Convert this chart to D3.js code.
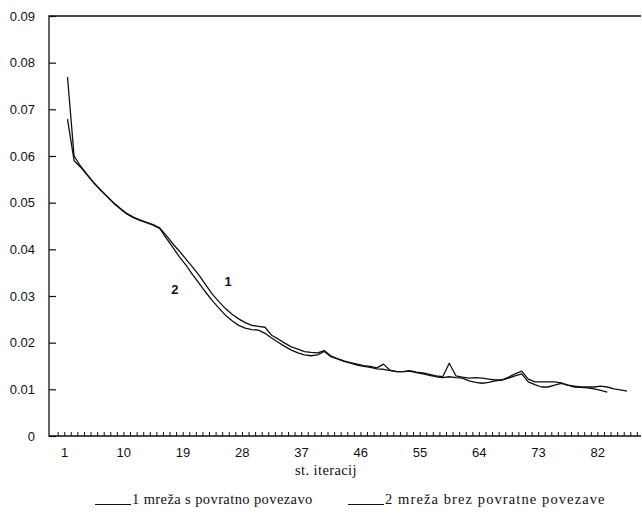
<!DOCTYPE html>
<html>
<head>
<meta charset="utf-8">
<script src="https://cdn.jsdelivr.net/npm/d3@7"></script>
<style>
  body { margin: 0; background: #fff; }
  svg { display: block; }
  .tick-lbl { font-family: "Liberation Sans", Arial, sans-serif; font-size: 13px; fill: #111; }
  .serif { font-family: "Liberation Serif", "DejaVu Serif", "Times New Roman", serif; font-size: 14.5px; letter-spacing: 0.4px; fill: #111; }
</style>
</head>
<body>
<div id="chart"></div>
<script>
// iterations 1..86 / 1..83
var iterations1 = d3.range(1, 87);
var iterations2 = d3.range(1, 84);

// 1 mreža s povratno povezavo
var series1 = [
  0.0769, 0.0600, 0.0578, 0.0560, 0.0543, 0.0528, 0.0514, 0.0500, 0.0488, 0.0477,
  0.0469, 0.0463, 0.0458, 0.0453, 0.0446, 0.0430, 0.0412, 0.0396, 0.0379, 0.0362,
  0.0344, 0.0324, 0.0304, 0.0288, 0.0273, 0.0261, 0.0251, 0.0243, 0.0237, 0.0235,
  0.0233, 0.0216, 0.0208, 0.0199, 0.0191, 0.0186, 0.0181, 0.0179, 0.0178, 0.0183,
  0.0172, 0.0166, 0.0161, 0.0157, 0.0154, 0.0151, 0.0149, 0.0146, 0.0154, 0.0141,
  0.0138, 0.0138, 0.0140, 0.0137, 0.0135, 0.0132, 0.0129, 0.0127, 0.0156, 0.0129,
  0.0126, 0.0124, 0.0125, 0.0124, 0.0122, 0.0120, 0.0120, 0.0126, 0.0133, 0.0139,
  0.0122, 0.0116, 0.0116, 0.0116, 0.0116, 0.0114, 0.0109, 0.0107, 0.0105, 0.0105,
  0.0105, 0.0107, 0.0105, 0.0101, 0.0099, 0.0096
];

// 2 mreža brez povratne povezave
var series2 = [
  0.0679, 0.0590, 0.0576, 0.0559, 0.0542, 0.0527, 0.0513, 0.0499, 0.0487, 0.0476,
  0.0468, 0.0462, 0.0457, 0.0452, 0.0445, 0.0424, 0.0404, 0.0384, 0.0366, 0.0346,
  0.0327, 0.0308, 0.0290, 0.0274, 0.0259, 0.0247, 0.0237, 0.0231, 0.0228, 0.0227,
  0.0220, 0.0210, 0.0201, 0.0192, 0.0184, 0.0178, 0.0174, 0.0172, 0.0174, 0.0181,
  0.0170, 0.0165, 0.0160, 0.0156, 0.0152, 0.0149, 0.0147, 0.0144, 0.0143, 0.0140,
  0.0138, 0.0138, 0.0139, 0.0136, 0.0133, 0.0130, 0.0127, 0.0125, 0.0127, 0.0125,
  0.0124, 0.0118, 0.0115, 0.0113, 0.0115, 0.0118, 0.0120, 0.0124, 0.0129, 0.0133,
  0.0116, 0.0110, 0.0105, 0.0105, 0.0109, 0.0113, 0.0109, 0.0105, 0.0104, 0.0103,
  0.0101, 0.0098, 0.0094
];

var xLabels = [1, 10, 19, 28, 37, 46, 55, 64, 73, 82];
var yTicks = [0, 0.01, 0.02, 0.03, 0.04, 0.05, 0.06, 0.07, 0.08, 0.09];
var legendItems = ["1  mreža s povratno povezavo", "2 mreža brez povratne povezave"];

var width = 642, height = 517;
var plot = {left: 49, right: 641, top: 16, bottom: 436};

var svg = d3.select("#chart").append("svg")
  .attr("width", width)
  .attr("height", height);

var x = d3.scaleLinear().domain([1, 86]).range([67.5, 627]);
var y = d3.scaleLinear().domain([0, 0.09]).range([plot.bottom, plot.top]);

// frame: left, top, bottom
svg.append("path")
  .attr("d", "M" + plot.right + "," + plot.top + "H" + plot.left + "V" + plot.bottom + "H" + plot.right)
  .attr("fill", "none")
  .attr("stroke", "#111")
  .attr("stroke-width", 1.3);

// y axis
var yAxis = d3.axisLeft(y)
  .tickValues(yTicks)
  .tickFormat(function(d) { return d === 0 ? "0" : d.toFixed(2); })
  .tickSizeInner(-7)
  .tickSizeOuter(0)
  .tickPadding(14);

var gy = svg.append("g")
  .attr("transform", "translate(" + plot.left + ",0)")
  .call(yAxis);
gy.select(".domain").remove();
gy.selectAll("line").attr("stroke", "#111").attr("stroke-width", 1.2);
gy.selectAll("text").attr("class", "tick-lbl").attr("font-family", null).attr("font-size", null);

// x axis: small tick per iteration, labels every 9
var xAxis = d3.axisBottom(x)
  .tickValues(d3.range(-0.5, 88, 1))
  .tickFormat("")
  .tickSizeInner(-4)
  .tickSizeOuter(0);

var gx = svg.append("g")
  .attr("transform", "translate(0," + plot.bottom + ")")
  .call(xAxis);
gx.select(".domain").remove();
gx.selectAll("line").attr("stroke", "#111").attr("stroke-width", 1);

svg.append("g").selectAll("text")
  .data(xLabels)
  .join("text")
  .attr("class", "tick-lbl")
  .attr("x", function(d) { return x(d) - 3; })
  .attr("y", plot.bottom + 21)
  .attr("text-anchor", "middle")
  .text(function(d) { return d; });

svg.append("text")
  .attr("class", "serif")
  .attr("x", 326)
  .attr("y", 475)
  .attr("text-anchor", "middle")
  .text("st. iteracij");

// lines
var line = d3.line()
  .x(function(d) { return x(d[0]); })
  .y(function(d) { return y(d[1]); });

var data1 = iterations1.map(function(i, k) { return [i, series1[k]]; });
var data2 = iterations2.map(function(i, k) { return [i, series2[k]]; });

[data1, data2].forEach(function(d) {
  svg.append("path")
    .datum(d)
    .attr("d", line)
    .attr("fill", "none")
    .attr("stroke", "#111")
    .attr("stroke-width", 1.3)
    .attr("stroke-linejoin", "round");
});

// in-plot series numbers
svg.append("text").attr("class", "tick-lbl")
  .attr("x", x(25.4)).attr("y", y(0.0332) + 5)
  .attr("font-weight", "bold").attr("text-anchor", "middle")
  .text("1");
svg.append("text").attr("class", "tick-lbl")
  .attr("x", x(17.3)).attr("y", y(0.0315) + 5)
  .attr("font-weight", "bold").attr("text-anchor", "middle")
  .text("2");

// legend
var legendX = [95, 348];
var legendSpacing = [0.4, 1.1];
var lg = svg.append("g").selectAll("g")
  .data(legendItems)
  .join("g")
  .attr("transform", function(d, i) { return "translate(" + legendX[i] + ",504)"; });
lg.append("line")
  .attr("x1", 0).attr("x2", 36).attr("y1", 0.5).attr("y2", 0.5)
  .attr("stroke", "#111").attr("stroke-width", 1);
lg.append("text")
  .attr("class", "serif")
  .attr("x", 37)
  .attr("y", 0)
  .style("letter-spacing", function(d, i) { return legendSpacing[i] + "px"; })
  .text(function(d) { return d; });
</script>
</body>
</html>
